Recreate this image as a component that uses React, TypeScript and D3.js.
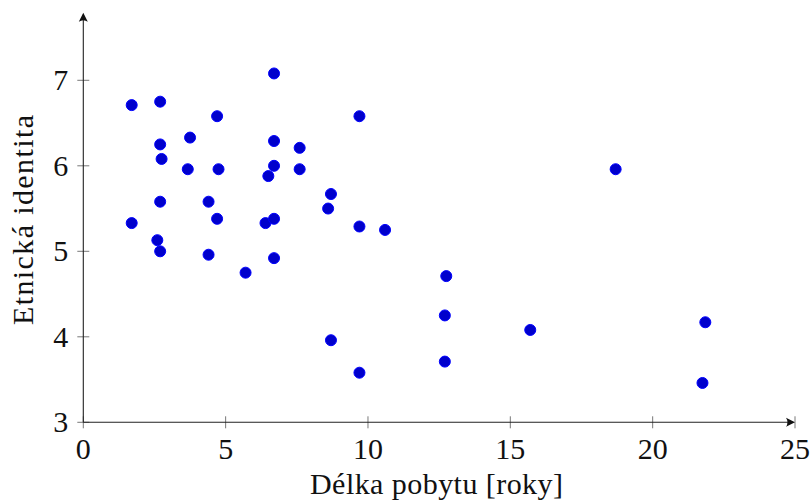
import React from "react";
import * as d3 from "d3";

const stayYears = [
  1.7, 2.7, 4.7, 6.7, 9.7, 3.75, 2.7, 6.7, 7.6, 2.75,
  3.67, 4.75, 6.7, 6.5, 7.6, 18.7, 8.7, 8.6, 2.7, 4.4,
  4.7, 6.4, 6.7, 1.7, 9.7, 10.6, 2.6, 2.7, 4.4, 5.7,
  6.7, 8.7, 9.7, 12.75, 12.7, 12.7, 15.7, 21.85, 21.75,
];
const ethnicIdentity = [
  6.71, 6.75, 6.58, 7.08, 6.58, 6.33, 6.25, 6.29, 6.21, 6.08,
  5.96, 5.96, 6.0, 5.88, 5.96, 5.96, 5.67, 5.5, 5.58, 5.58,
  5.38, 5.33, 5.38, 5.33, 5.29, 5.25, 5.13, 5.0, 4.96, 4.75,
  4.92, 3.96, 3.58, 4.71, 4.25, 3.71, 4.08, 4.17, 3.46,
];
const xTicks = [0, 5, 10, 15, 20, 25];
const yTicks = [3, 4, 5, 6, 7];
const xLabel = "Délka pobytu [roky]";
const yLabel = "Etnická identita";

const W = 811;
const H = 504;
const FONT = "'Liberation Serif', 'DejaVu Serif', serif";
const FS = 30;

export default function App() {
  const x = d3.scaleLinear().domain([0, 25]).range([83.3, 795]);
  const y = d3.scaleLinear().domain([3, 7]).range([422.3, 80.3]);
  const x0 = x(0);
  const y0 = y(3);
  const yTop = y(7.79);
  const xEnd = x(25);

  return (
    <svg
      width={W}
      height={H}
      style={{ position: "absolute", left: 0, top: 0, background: "#fff" }}
      fontFamily={FONT}
    >
      {xTicks.map((t) => (
        <line key={"xt" + t} x1={x(t)} x2={x(t)} y1={y0 - 6} y2={y0 + 6} stroke="#555" strokeWidth={0.8} />
      ))}
      {yTicks.map((t) => (
        <line key={"yt" + t} x1={x0 - 6} x2={x0 + 6} y1={y(t)} y2={y(t)} stroke="#555" strokeWidth={0.8} />
      ))}
      <line x1={x0} x2={xEnd - 2} y1={y0} y2={y0} stroke="#222" strokeWidth={1.1} />
      <line x1={x0} x2={x0} y1={y0} y2={yTop + 2} stroke="#222" strokeWidth={1.1} />
      <path
        d={`M${xEnd},${y0} L${xEnd - 9},${y0 - 4.5} Q${xEnd - 6},${y0} ${xEnd - 9},${y0 + 4.5} Z`}
        fill="#111"
      />
      <path
        d={`M${x0},${yTop} L${x0 - 4.5},${yTop + 9} Q${x0},${yTop + 6} ${x0 + 4.5},${yTop + 9} Z`}
        fill="#111"
      />
      {xTicks.map((t) => (
        <text key={"xl" + t} x={x(t)} y={y0 + 37} textAnchor="middle" fontSize={FS} fill="#111">
          {t}
        </text>
      ))}
      {yTicks.map((t) => (
        <text key={"yl" + t} x={x0 - 15} y={y(t) + 10} textAnchor="end" fontSize={FS} fill="#111">
          {t}
        </text>
      ))}
      <text
        x={436.5}
        y={494}
        textAnchor="middle"
        fontSize={FS}
        fill="#111"
        textLength={253}
        lengthAdjust="spacing"
      >
        {xLabel}
      </text>
      <text
        transform={`translate(33,220) rotate(-90)`}
        textAnchor="middle"
        fontSize={FS}
        fill="#111"
        textLength={210}
        lengthAdjust="spacing"
      >
        {yLabel}
      </text>
      {stayYears.map((v, i) => (
        <circle
          key={"p" + i}
          cx={x(v)}
          cy={y(ethnicIdentity[i])}
          r={5.5}
          fill="#0000cc"
          stroke="#0000ff"
          strokeWidth={1}
        />
      ))}
    </svg>
  );
}
